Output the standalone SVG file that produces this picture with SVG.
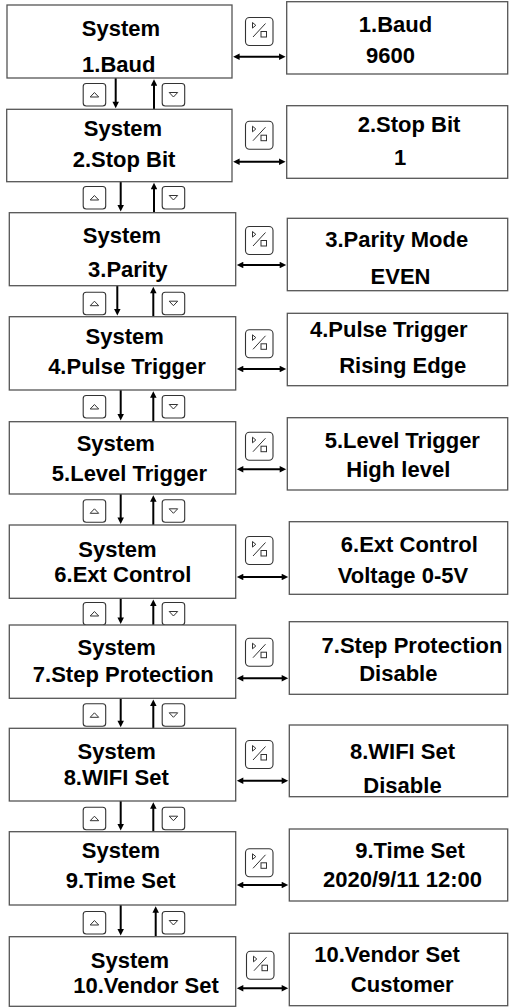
<svg xmlns="http://www.w3.org/2000/svg" width="509" height="1007" viewBox="0 0 509 1007">
<style>
.box{fill:#fff;stroke:#555;stroke-width:1.3}
.t{font-family:"Liberation Sans",Arial,sans-serif;font-weight:bold;font-size:22px;text-anchor:middle;fill:#000}
.ar{stroke:#000;stroke-width:2;fill:none;marker-end:url(#ah)}
.dbl{stroke:#000;stroke-width:2;fill:none;marker-start:url(#ah);marker-end:url(#ah)}
.ib{fill:#fff;stroke:#333;stroke-width:1.1}
.ig{fill:none;stroke:#333;stroke-width:1}
</style>
<defs>
<marker id="ah" viewBox="0 0 10 10" refX="2.5" refY="5" markerWidth="8" markerHeight="6.5" orient="auto-start-reverse" markerUnits="userSpaceOnUse">
<path d="M0,0 L10,5 L0,10 Z" fill="#000"/>
</marker>
<g id="sw">
<rect class="ib" x="0.5" y="0.5" width="27.5" height="28" rx="4"/>
<path class="ig" d="M7.5,5.5 L10.8,8.3 L7.5,11.1 Z"/>
<path class="ig" d="M8,20 L20.5,6.5"/>
<rect class="ig" x="16" y="14.5" width="5.5" height="5.5"/>
</g>
<g id="up">
<rect class="ib" x="0.5" y="0.5" width="22.5" height="22.5" rx="3"/>
<path class="ig" d="M7.5,14 L11.75,9.5 L16,14 Z"/>
</g>
<g id="dn">
<rect class="ib" x="0.5" y="0.5" width="22.5" height="22.5" rx="3"/>
<path class="ig" d="M7.5,9.5 L11.75,14 L16,9.5 Z"/>
</g>
</defs>

<g id="connectors">
<!-- vertical -->
<line class="ar" x1="115.7" y1="78" x2="115.7" y2="103.3"/>
<line class="ar" x1="154" y1="109.3" x2="154" y2="84"/>
<line class="ar" x1="120.7" y1="181.7" x2="120.7" y2="206.7"/>
<line class="ar" x1="154" y1="212.7" x2="154" y2="187.7"/>
<line class="ar" x1="117.3" y1="285.7" x2="117.3" y2="310.7"/>
<line class="ar" x1="153.3" y1="316.7" x2="153.3" y2="291.7"/>
<line class="ar" x1="120.7" y1="390" x2="120.7" y2="415.7"/>
<line class="ar" x1="153.3" y1="421.7" x2="153.3" y2="396"/>
<line class="ar" x1="120.7" y1="494" x2="120.7" y2="519"/>
<line class="ar" x1="153.3" y1="525" x2="153.3" y2="500"/>
<line class="ar" x1="120.7" y1="598.3" x2="120.7" y2="619"/>
<line class="ar" x1="153.3" y1="625" x2="153.3" y2="604.3"/>
<line class="ar" x1="120.7" y1="698.3" x2="120.7" y2="722.3"/>
<line class="ar" x1="153.3" y1="728.3" x2="153.3" y2="704.3"/>
<line class="ar" x1="120.7" y1="801" x2="120.7" y2="825.7"/>
<line class="ar" x1="153.3" y1="831.7" x2="153.3" y2="807"/>
<line class="ar" x1="120.7" y1="905" x2="120.7" y2="930.7"/>
<line class="ar" x1="155.7" y1="936.7" x2="155.7" y2="911"/>
<!-- horizontal -->
<line class="dbl" x1="238" y1="56.7" x2="280.7" y2="56.7"/>
<line class="dbl" x1="238" y1="161.7" x2="280.7" y2="161.7"/>
<line class="dbl" x1="241.7" y1="265" x2="281.3" y2="265"/>
<line class="dbl" x1="241.7" y1="369" x2="281.3" y2="369"/>
<line class="dbl" x1="241.7" y1="469.3" x2="281.3" y2="469.3"/>
<line class="dbl" x1="241.7" y1="577" x2="283.3" y2="577"/>
<line class="dbl" x1="241.7" y1="678.3" x2="283.3" y2="678.3"/>
<line class="dbl" x1="241.7" y1="780.7" x2="283.3" y2="780.7"/>
<line class="dbl" x1="241.7" y1="885" x2="283.3" y2="885"/>
<line class="dbl" x1="241.7" y1="988.3" x2="283.3" y2="988.3"/>
<!-- buttons -->
<use href="#up" x="82.7" y="83"/><use href="#dn" x="161.7" y="83"/>
<use href="#up" x="82.7" y="186"/><use href="#dn" x="161.7" y="186"/>
<use href="#up" x="82.7" y="291.7"/><use href="#dn" x="161.7" y="291.7"/>
<use href="#up" x="82.7" y="395"/><use href="#dn" x="161.7" y="395"/>
<use href="#up" x="82.7" y="499.3"/><use href="#dn" x="161.7" y="499.3"/>
<use href="#up" x="82.7" y="602"/><use href="#dn" x="161.7" y="602"/>
<use href="#up" x="82.7" y="703.3"/><use href="#dn" x="161.7" y="703.3"/>
<use href="#up" x="82.7" y="806.7"/><use href="#dn" x="161.7" y="806.7"/>
<use href="#up" x="82.7" y="911"/><use href="#dn" x="161.7" y="911"/>
<!-- switch icons -->
<use href="#sw" x="245" y="17"/>
<use href="#sw" x="245" y="120.7"/>
<use href="#sw" x="245" y="226"/>
<use href="#sw" x="245" y="329.3"/>
<use href="#sw" x="245" y="431.7"/>
<use href="#sw" x="245" y="536"/>
<use href="#sw" x="245" y="637.7"/>
<use href="#sw" x="245" y="740"/>
<use href="#sw" x="245" y="848.3"/>
<use href="#sw" x="246" y="950.7"/>
</g>

<g id="menu1"><rect class="box" x="7" y="5" width="225" height="73"/><text class="t" x="121" y="35.7">System</text><text class="t" x="118.8" y="71.7">1.Baud</text></g>
<g id="val1"><rect class="box" x="286.7" y="1.7" width="221" height="72.3"/><text class="t" x="395.5" y="32">1.Baud</text><text class="t" x="390.5" y="63">9600</text></g>

<g id="menu2"><rect class="box" x="6.7" y="109.3" width="225.3" height="72.4"/><text class="t" x="123" y="135.7">System</text><text class="t" x="124" y="166.7">2.Stop Bit</text></g>
<g id="val2"><rect class="box" x="286.7" y="105.7" width="221" height="72.6"/><text class="t" x="409" y="132">2.Stop Bit</text><text class="t" x="400" y="165">1</text></g>

<g id="menu3"><rect class="box" x="9.3" y="212.7" width="226.4" height="73"/><text class="t" x="122" y="242.7">System</text><text class="t" x="127.8" y="276.7">3.Parity</text></g>
<g id="val3"><rect class="box" x="287.3" y="218.3" width="220.4" height="72.4"/><text class="t" x="396.7" y="247.3">3.Parity Mode</text><text class="t" x="400.5" y="284">EVEN</text></g>

<g id="menu4"><rect class="box" x="9.3" y="316.7" width="226.4" height="73.3"/><text class="t" x="124.7" y="344">System</text><text class="t" x="127" y="374">4.Pulse Trigger</text></g>
<g id="val4"><rect class="box" x="287.3" y="313.3" width="220.4" height="72.4"/><text class="t" x="388.8" y="336.7">4.Pulse Trigger</text><text class="t" x="402.7" y="373.3">Rising Edge</text></g>

<g id="menu5"><rect class="box" x="9.3" y="421.7" width="226.4" height="72.3"/><text class="t" x="115.8" y="451">System</text><text class="t" x="129.5" y="480.7">5.Level Trigger</text></g>
<g id="val5"><rect class="box" x="287.3" y="417.7" width="220.4" height="72.3"/><text class="t" x="402.3" y="448.3">5.Level Trigger</text><text class="t" x="398.3" y="477.3">High level</text></g>

<g id="menu6"><rect class="box" x="9.3" y="525" width="226.4" height="73.3"/><text class="t" x="117.5" y="556.7">System</text><text class="t" x="122.8" y="581.7">6.Ext Control</text></g>
<g id="val6"><rect class="box" x="289.3" y="521.7" width="218.4" height="72.6"/><text class="t" x="409.3" y="552.3">6.Ext Control</text><text class="t" x="403" y="583.3">Voltage 0-5V</text></g>

<g id="menu7"><rect class="box" x="9.3" y="625" width="226.4" height="73.3"/><text class="t" x="116.7" y="655">System</text><text class="t" x="123.3" y="681.7">7.Step Protection</text></g>
<g id="val7"><rect class="box" x="289.3" y="621.7" width="218.4" height="72.6"/><text class="t" x="412" y="653.3">7.Step Protection</text><text class="t" x="398.3" y="681">Disable</text></g>

<g id="menu8"><rect class="box" x="9.3" y="728.3" width="226.4" height="72.7"/><text class="t" x="116.7" y="759">System</text><text class="t" x="116.2" y="785">8.WIFI Set</text></g>
<g id="val8"><rect class="box" x="289.3" y="725" width="218.4" height="71.7"/><text class="t" x="402.5" y="759">8.WIFI Set</text><text class="t" x="402.5" y="792.7">Disable</text></g>

<g id="menu9"><rect class="box" x="9.3" y="831.7" width="226.4" height="73.3"/><text class="t" x="121" y="857.7">System</text><text class="t" x="120.7" y="888.3">9.Time Set</text></g>
<g id="val9"><rect class="box" x="289.3" y="829" width="218.4" height="72"/><text class="t" x="410" y="858.3">9.Time Set</text><text class="t" x="402.5" y="886.7">2020/9/11 12:00</text></g>

<g id="menu10"><rect class="box" x="9.3" y="936.7" width="226.4" height="69.6"/><text class="t" x="130" y="967.7">System</text><text class="t" x="146" y="992.7">10.Vendor Set</text></g>
<g id="val10"><rect class="box" x="289.3" y="933.3" width="218.4" height="72.4"/><text class="t" x="387" y="961.7">10.Vendor Set</text><text class="t" x="402.2" y="991.7">Customer</text></g>
</svg>
